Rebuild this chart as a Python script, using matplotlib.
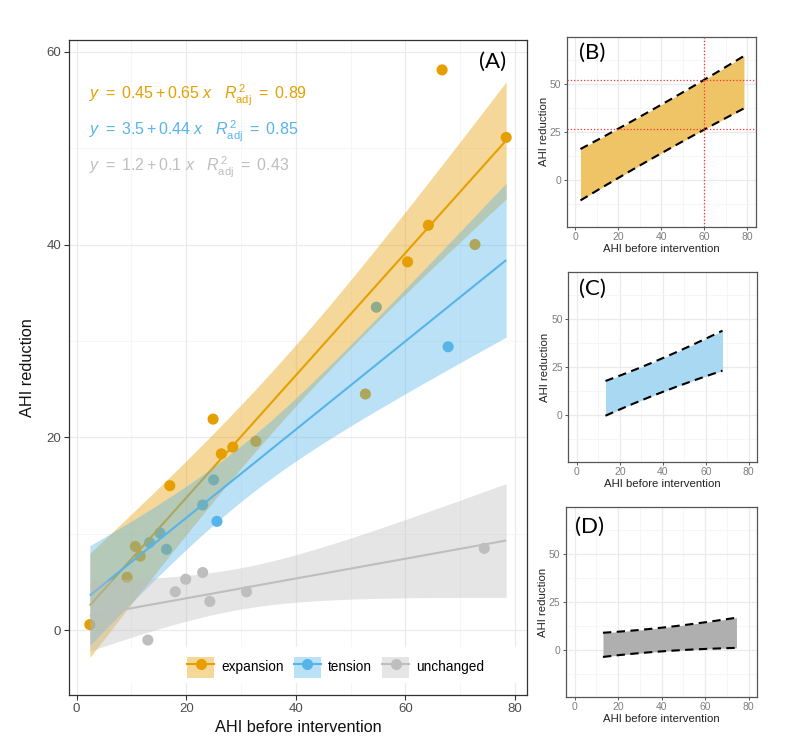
import math
import numpy as np
import matplotlib
matplotlib.use('Agg')
import matplotlib.pyplot as plt
from matplotlib.patches import Patch, Rectangle
from matplotlib.lines import Line2D

plt.rcParams['font.family'] = ['Liberation Sans', 'DejaVu Sans']
plt.rcParams['mathtext.fontset'] = 'custom'
plt.rcParams['mathtext.rm'] = 'Liberation Sans'
plt.rcParams['mathtext.it'] = 'Liberation Sans:italic'
plt.rcParams['mathtext.bf'] = 'Liberation Sans:bold'

# ---------------- data ----------------
groups = ['expansion', 'tension', 'unchanged']
colors = ['#E69F00', '#56B4E9', '#BEBEBE']
panel_fill = ['#EFC466', '#A9D8F3', '#AFAFAF']

exp_x = [2.4, 9.2, 10.7, 11.6, 17.0, 24.9, 26.4, 28.5, 32.7, 52.7, 60.4, 64.2, 66.7, 72.7, 78.4]
exp_y = [0.6, 5.5, 8.7, 7.7, 15.0, 21.9, 18.3, 19.0, 19.6, 24.5, 38.2, 42.0, 58.1, 40.0, 51.1]
ten_x = [13.3, 15.2, 16.4, 23.0, 25.0, 25.6, 54.7, 67.8]
ten_y = [9.1, 10.1, 8.4, 13.0, 15.6, 11.3, 33.5, 29.4]
unc_x = [13.0, 18.0, 19.9, 23.0, 24.3, 31.0, 74.4]
unc_y = [-1.0, 4.0, 5.3, 6.0, 3.0, 4.0, 8.5]

equations = [r'$y\ =\ 0.45 + 0.65\ x\quad R^{\,2}_{\mathrm{adj}}\ =\ 0.89$',
             r'$y\ =\ 3.5 + 0.44\ x\quad R^{\,2}_{\mathrm{adj}}\ =\ 0.85$',
             r'$y\ =\ 1.2 + 0.1\ x\quad R^{\,2}_{\mathrm{adj}}\ =\ 0.43$']
panel_labels = ['(A)', '(B)', '(C)', '(D)']
main_xticks = [0, 20, 40, 60, 80]
main_yticks = [0, 20, 40, 60]
small_xticks = [0, 20, 40, 60, 80]
small_yticks = [0, 25, 50]
b_ref_x = 60

data = [(np.array(exp_x), np.array(exp_y)),
        (np.array(ten_x), np.array(ten_y)),
        (np.array(unc_x), np.array(unc_y))]


def t_quantile(p, df):
    xs = np.linspace(0, 30, 300001)
    c = math.gamma((df + 1) / 2) / (math.sqrt(df * math.pi) * math.gamma(df / 2))
    pdf = c * (1 + xs ** 2 / df) ** (-(df + 1) / 2)
    cdf = 0.5 + np.concatenate([[0], np.cumsum((pdf[1:] + pdf[:-1]) / 2 * np.diff(xs))])
    return np.interp(p, cdf, xs)


def lm(x, y, xg):
    n = len(x)
    b1, b0 = np.polyfit(x, y, 1)
    res = y - (b0 + b1 * x)
    s = np.sqrt(np.sum(res ** 2) / (n - 2))
    sxx = np.sum((x - x.mean()) ** 2)
    t = t_quantile(0.975, n - 2)
    fit = b0 + b1 * xg
    se_fit = s * np.sqrt(1 / n + (xg - x.mean()) ** 2 / sxx)
    se_pred = s * np.sqrt(1 + 1 / n + (xg - x.mean()) ** 2 / sxx)
    return fit, fit - t * se_fit, fit + t * se_fit, fit - t * se_pred, fit + t * se_pred


fig = plt.figure(figsize=(7.88, 7.42), dpi=100)

border_c = '#333333'
tick_c = '#4D4D4D'


def style(ax, border='#333333'):
    for sp in ax.spines.values():
        sp.set_color(border)
        sp.set_linewidth(0.9)
    ax.set_axisbelow(True)
    ax.grid(True, which='major', color='#EBEBEB', lw=0.9)
    ax.grid(True, which='minor', color='#F3F3F3', lw=0.5)


# ---------------- main panel ----------------
ax = fig.add_axes([69 / 788, 1 - 695 / 742, 458 / 788, 655 / 742])
style(ax)
allx = np.concatenate([d[0] for d in data])
xg = np.linspace(allx.min(), allx.max(), 200)

for i, (x, y) in enumerate(data):
    ax.scatter(x, y, s=64, color=colors[i], edgecolors='none', zorder=2)

for i, (x, y) in enumerate(data):
    fit, lo, hi, _, _ = lm(x, y, xg)
    ax.fill_between(xg, lo, hi, color=colors[i], alpha=0.4, lw=0, zorder=3 + 2 * i)
    ax.plot(xg, fit, color=colors[i], lw=1.5, zorder=4 + 2 * i, solid_capstyle='butt')

ax.set_xlim(-1.4, 82.2)
ax.set_ylim(-6.7, 61.2)
ax.set_xticks(main_xticks)
ax.set_yticks(main_yticks)
ax.set_xticks([10, 30, 50, 70], minor=True)
ax.set_yticks([10, 30, 50], minor=True)
ax.tick_params(which='major', length=3.5, width=0.8, color=border_c, labelcolor=tick_c, labelsize=9.5, pad=2)
ax.tick_params(which='minor', length=0)
ax.set_xlabel('AHI before intervention', fontsize=11.7, labelpad=4, color='#111111')
ax.set_ylabel('AHI reduction', fontsize=11.7, labelpad=8, color='#111111')

for i, eq in enumerate(equations):
    ax.text(2.2, [55.5, 51.75, 47.95][i], eq, color=colors[i], fontsize=11.5, ha='left', va='center', zorder=20)

# legend with white background
ax.add_patch(Rectangle((0.094, 0.0183), 0.903, 0.055, transform=ax.transAxes,
                       facecolor='white', edgecolor='none', zorder=15))
handles = [(Patch(facecolor=c, alpha=0.4, edgecolor='none'),
            Line2D([], [], color=c, marker='o', markersize=8, lw=1.5, markeredgewidth=0)) for c in colors]
leg = ax.legend(handles, groups, loc='center', bbox_to_anchor=(0.582, 0.0427), ncol=3, frameon=False,
                fontsize=9.8, handlelength=2.0, handleheight=2.0, handletextpad=0.5,
                columnspacing=0.75, borderpad=0, borderaxespad=0)
leg.set_zorder(16)

fig.text(493 / 788, 1 - 62 / 742, panel_labels[0], fontsize=16, family=['Lato', 'DejaVu Sans'],
         ha='center', va='center')

# ---------------- small panels ----------------
small_pos = [[566.7, 36.7, 756.0, 226.7],
             [568.3, 272.3, 757.3, 461.7],
             [566.0, 507.3, 757.3, 696.7]]
label_pos = [(592, 53), (592, 289), (590, 527)]

for i, (x, y) in enumerate(data):
    l, t, r, b = small_pos[i]
    sax = fig.add_axes([l / 788, 1 - b / 742, (r - l) / 788, (b - t) / 742])
    style(sax, border='#555555')
    xs = np.linspace(x.min(), x.max(), 200)
    fit, _, _, plo, phi = lm(x, y, xs)
    sax.fill_between(xs, plo, phi, color=panel_fill[i], lw=0, zorder=2)
    sax.plot(xs, plo, color='black', lw=1.5, ls=(0, (4, 2.6)), zorder=3)
    sax.plot(xs, phi, color='black', lw=1.5, ls=(0, (4, 2.6)), zorder=3)
    if i == 0:
        _, _, _, rlo, rhi = lm(x, y, np.array([b_ref_x]))
        sax.axvline(b_ref_x, color='#FF3030', ls=':', lw=0.9, zorder=4)
        sax.axhline(rlo[0], color='#FF3030', ls=':', lw=0.9, zorder=4)
        sax.axhline(rhi[0], color='#FF3030', ls=':', lw=0.9, zorder=4)
    sax.set_xlim(-4, 84)
    sax.set_ylim(-24.5, 74.5)
    sax.set_xticks(small_xticks)
    sax.set_yticks(small_yticks)
    sax.set_xticks([10, 30, 50, 70], minor=True)
    sax.set_yticks([-12.5, 12.5, 37.5, 62.5], minor=True)
    sax.tick_params(which='major', length=2.5, width=0.7, color='#555555', labelcolor='#7F7F7F', labelsize=7.5, pad=1.5)
    sax.tick_params(which='minor', length=0)
    sax.set_xlabel('AHI before intervention', fontsize=8.2, labelpad=1.5, color='#222222')
    sax.set_ylabel('AHI reduction', fontsize=8.2, labelpad=0.5, color='#222222')
    fig.text(label_pos[i][0] / 788, 1 - label_pos[i][1] / 742, panel_labels[i + 1], fontsize=16,
             family=['Lato', 'DejaVu Sans'], ha='center', va='center')

fig.savefig('out.png', dpi=100)
